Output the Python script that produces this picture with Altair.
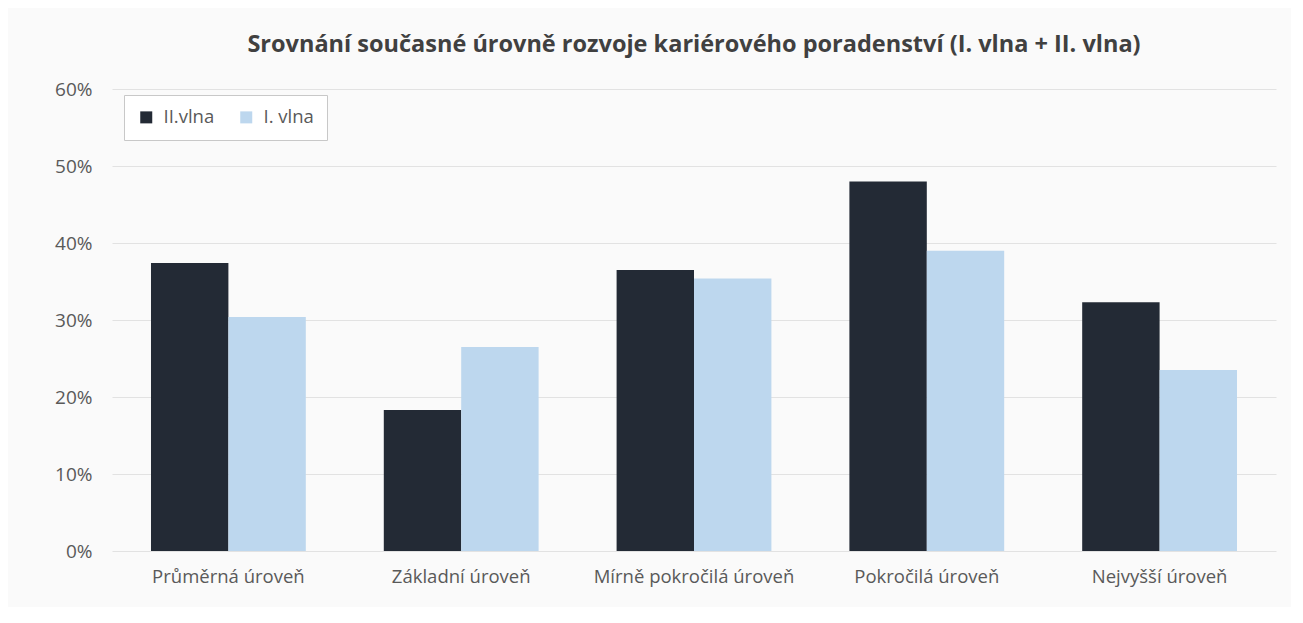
import altair as alt
import pandas as pd

kategorie = ["Průměrná úroveň", "Základní úroveň", "Mírně pokročilá úroveň", "Pokročilá úroveň", "Nejvyšší úroveň"]
vlna_2 = [0.374, 0.183, 0.365, 0.480, 0.323]
vlna_1 = [0.304, 0.265, 0.354, 0.390, 0.235]
serie = ["II.vlna", "I. vlna"]
barvy = ["#232a35", "#bdd7ee"]
y_ticks = [0, 0.1, 0.2, 0.3, 0.4, 0.5, 0.6]

rows = []
for k, a, b in zip(kategorie, vlna_2, vlna_1):
    rows.append({"kat": k, "vlna": serie[0], "hodnota": a})
    rows.append({"kat": k, "vlna": serie[1], "hodnota": b})
df = pd.DataFrame(rows)

FONT = "Open Sans"

chart = alt.Chart(df).mark_bar().encode(
    x=alt.X("kat:N", sort=kategorie, title=None,
            scale=alt.Scale(paddingInner=0.335, paddingOuter=0.1675),
            axis=alt.Axis(labelAngle=0, labelFontSize=18.5, labelColor="#595959", labelFont=FONT,
                          ticks=False, domain=False, labelPadding=16, labelLimit=400)),
    xOffset=alt.XOffset("vlna:N", sort=serie),
    y=alt.Y("hodnota:Q", title=None,
            scale=alt.Scale(domain=[0, 0.6], nice=False),
            axis=alt.Axis(values=y_ticks, format=".0%", labelFontSize=19, labelColor="#595959",
                          labelFont=FONT, ticks=False, domain=False, labelPadding=20,
                          gridColor="#e2e2e2", gridWidth=1)),
    color=alt.Color("vlna:N", sort=serie,
                    scale=alt.Scale(domain=serie, range=barvy),
                    legend=alt.Legend(title=None, orient="none", legendX=12, legendY=6,
                                      direction="horizontal", symbolType="square", symbolSize=144,
                                      labelFontSize=18.5, labelColor="#595959", labelFont=FONT,
                                      fillColor="white", strokeColor="#c8c8c8", padding=13,
                                      columnPadding=22, labelOffset=8)),
).properties(
    width=1164,
    height=462,
    title=alt.TitleParams("Srovnání současné úrovně rozvoje kariérového poradenství (I. vlna + II. vlna)",
                          fontSize=23.5, font=FONT, fontWeight="bold", color="#404040",
                          anchor="middle", offset=24),
    padding={"left": 104, "top": 81, "right": 15, "bottom": 56},
    autosize=alt.AutoSizeParams(type="none"),
    background="#fafafa",
).configure_view(stroke=None)

chart.save("out.html", embed_options={"renderer": "svg", "actions": False})
